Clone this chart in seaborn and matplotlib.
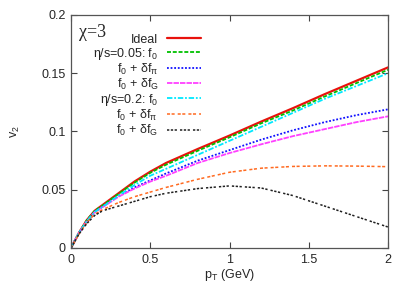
import numpy as np
import pandas as pd
import matplotlib
matplotlib.use("Agg")
import matplotlib.pyplot as plt
import seaborn as sns
from matplotlib.ticker import FuncFormatter

pt = [0, 0.05, 0.1, 0.15, 0.2, 0.3, 0.4, 0.5, 0.6, 0.8, 1.0, 1.2, 1.4, 1.6, 1.8, 2.0]
ideal   = [0, 0.013, 0.024, 0.032, 0.037, 0.047, 0.057, 0.0655, 0.073, 0.085, 0.0965, 0.1085, 0.120, 0.132, 0.1435, 0.155]
v005_f0 = [0, 0.013, 0.024, 0.032, 0.0365, 0.0465, 0.056, 0.0645, 0.0715, 0.0835, 0.095, 0.107, 0.118, 0.130, 0.1415, 0.153]
v005_pi = [0, 0.013, 0.023, 0.031, 0.0355, 0.0445, 0.052, 0.058, 0.064, 0.075, 0.084, 0.093, 0.101, 0.108, 0.114, 0.119]
v005_G  = [0, 0.013, 0.023, 0.031, 0.035, 0.044, 0.051, 0.057, 0.062, 0.073, 0.0815, 0.089, 0.096, 0.102, 0.108, 0.113]
v02_f0  = [0, 0.013, 0.023, 0.031, 0.0355, 0.045, 0.054, 0.062, 0.068, 0.080, 0.092, 0.104, 0.116, 0.128, 0.139, 0.150]
v02_pi  = [0, 0.012, 0.022, 0.029, 0.033, 0.039, 0.044, 0.048, 0.052, 0.059, 0.065, 0.0685, 0.070, 0.0705, 0.0703, 0.0698]
v02_G   = [0, 0.012, 0.021, 0.028, 0.032, 0.036, 0.040, 0.044, 0.047, 0.051, 0.0533, 0.0515, 0.045, 0.036, 0.027, 0.018]

labels = ["Ideal", "η/s=0.05: f$_0$", "f$_0$ + δf$_π$", "f$_0$ + δf$_G$",
          "η/s=0.2: f$_0$", "f$_0$ + δf$_π$ ", "f$_0$ + δf$_G$ "]
series = [ideal, v005_f0, v005_pi, v005_G, v02_f0, v02_pi, v02_G]
colors = ["#e8120c", "#00c000", "#1010ff", "#ff40ff", "#00e8ff", "#ff6a20", "#202020"]
styles = ["-", (0, (2.2, 1.0)), (0, (1.0, 1.0)), (0, (3.0, 0.6)),
          (0, (3.0, 1.0, 1.0, 1.0)), (0, (2.0, 1.0, 2.0, 2.0)), (0, (1.5, 1.0, 1.5, 1.0, 1.5, 2.0))]
widths = [1.6, 1.3, 1.3, 1.3, 1.3, 1.1, 1.1]

sns.set_style("ticks")
plt.rcParams["font.family"] = ["Liberation Sans", "DejaVu Sans"]
plt.rcParams["mathtext.fontset"] = "custom"
plt.rcParams["mathtext.rm"] = "Liberation Sans"
plt.rcParams["mathtext.it"] = "Liberation Sans"

fig = plt.figure(figsize=(4.09, 2.86), dpi=100)
ax = fig.add_axes([0.1736, 0.1329, 0.7751, 0.8147])

for lab, ys, c, ls, lw in zip(labels, series, colors, styles, widths):
    df = pd.DataFrame({"pT": pt, "v2": ys})
    sns.lineplot(data=df, x="pT", y="v2", ax=ax, color=c, linestyle=ls,
                 linewidth=lw, label=lab, estimator=None, sort=False)

ax.set_xlim(0, 2)
ax.set_ylim(0, 0.2)
ax.set_xticks([0, 0.5, 1, 1.5, 2])
ax.set_yticks([0, 0.05, 0.1, 0.15, 0.2])
fmt = FuncFormatter(lambda v, p: "%g" % v)
ax.xaxis.set_major_formatter(fmt)
ax.yaxis.set_major_formatter(fmt)
ax.tick_params(direction="in", top=True, right=True, length=4, width=0.8,
               color="#444444", labelsize=9, pad=4)
for s in ax.spines.values():
    s.set_color("#555555")
    s.set_linewidth(0.9)

ax.set_xlabel("p$_T$ (GeV)", fontsize=9, labelpad=1)
ax.set_ylabel("v$_2$", fontsize=9, labelpad=14)

ax.text(0.025, 0.96, "χ=3", transform=ax.transAxes, fontsize=13,
        family="Liberation Serif", va="top", ha="left")

leg = ax.legend(loc="upper right", bbox_to_anchor=(0.41, 0.92), frameon=False,
                markerfirst=False, fontsize=9, handlelength=2.7, handletextpad=0.7,
                labelspacing=0.0, borderpad=0.0, borderaxespad=0.0)
# right-align the rows so texts end next to the handles
for col in leg._legend_handle_box.get_children():
    col.align = "right"

fig.savefig("out.png", dpi=100)
